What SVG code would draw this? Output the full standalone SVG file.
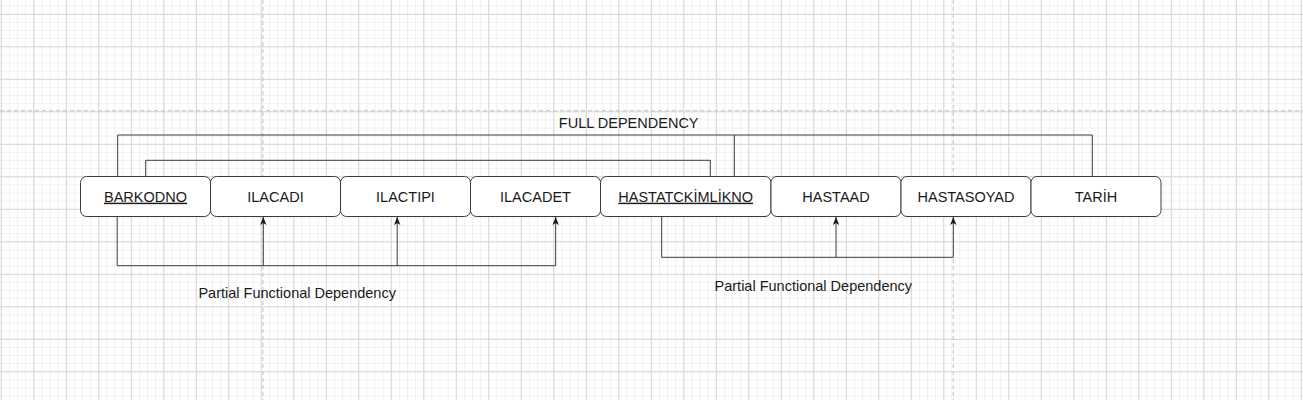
<svg xmlns="http://www.w3.org/2000/svg" width="1303" height="400" viewBox="0 0 1303 400">
<style>
.node rect{fill:#ffffff;stroke:#3c3c3c;stroke-width:1}
.node text,.lbl{font-family:"Liberation Sans",Arial,sans-serif;font-size:14.5px;fill:#1a1a1a;text-anchor:middle}
.key{text-decoration:underline}
.edge{fill:none;stroke:#3c3c3c;stroke-width:1}
.pb{stroke:#c4c4c4;stroke-width:1;stroke-dasharray:4 3}
</style>
<defs>
<pattern id="minor" patternUnits="userSpaceOnUse" x="0.8" y="13.8" width="8.125" height="8.125">
<path d="M0 0.5H8.125M0.5 0V8.125" fill="none" stroke="#f0f0f0" stroke-width="1"/>
</pattern>
<pattern id="major" patternUnits="userSpaceOnUse" x="0.8" y="13.8" width="32.5" height="32.5">
<path d="M0 0.5H32.5M0.5 0V32.5" fill="none" stroke="#d6d6d6" stroke-width="1"/>
</pattern>
<marker id="arr" viewBox="0 0 10 10" refX="10" refY="5" markerWidth="8" markerHeight="8" markerUnits="userSpaceOnUse" orient="auto">
<path d="M0 1L10 5L0 9L2.5 5Z" fill="#1a1a1a"/>
</marker>
</defs>
<rect width="1303" height="400" fill="#ffffff"/>
<rect width="1303" height="400" fill="url(#minor)"/>
<rect width="1303" height="400" fill="url(#major)"/>
<g id="page-breaks">
<line class="pb" x1="263" y1="0" x2="263" y2="400"/>
<line class="pb" x1="953.3" y1="0" x2="953.3" y2="400"/>
<line class="pb" x1="0" y1="110.7" x2="1303" y2="110.7"/>
</g>
<g id="connectors">
<polyline class="edge" points="117.7,176.5 117.7,135 1092.3,135 1092.3,176.5"/>
<polyline class="edge" points="734.3,176.5 734.3,135"/>
<polyline class="edge" points="145.7,176.5 145.7,160.3 710.3,160.3 710.3,176.5"/>
<polyline class="edge" points="117.2,216.5 117.2,265.7 555.7,265.7 555.7,217" marker-end="url(#arr)"/>
<polyline class="edge" points="263.3,265.7 263.3,217" marker-end="url(#arr)"/>
<polyline class="edge" points="397.2,265.7 397.2,217" marker-end="url(#arr)"/>
<polyline class="edge" points="661.7,216.5 661.7,257.3 953.3,257.3 953.3,217" marker-end="url(#arr)"/>
<polyline class="edge" points="836,257.3 836,217" marker-end="url(#arr)"/>
<text class="lbl" x="628.7" y="128.3">FULL DEPENDENCY</text>
<text class="lbl" x="297.2" y="298">Partial Functional Dependency</text>
<text class="lbl" x="813.3" y="290.5">Partial Functional Dependency</text>
</g>
<g id="n-barkodno" class="node"><rect x="80.5" y="176.5" width="130" height="40" rx="6"/><text class="key" x="145.5" y="201.7">BARKODNO</text></g>
<g id="n-ilacadi" class="node"><rect x="210.5" y="176.5" width="130" height="40" rx="6"/><text x="275.5" y="201.7">ILACADI</text></g>
<g id="n-ilactipi" class="node"><rect x="340.5" y="176.5" width="130" height="40" rx="6"/><text x="405.5" y="201.7">ILACTIPI</text></g>
<g id="n-ilacadet" class="node"><rect x="470.5" y="176.5" width="130" height="40" rx="6"/><text x="535.5" y="201.7">ILACADET</text></g>
<g id="n-hastatc" class="node"><rect x="600.5" y="176.5" width="170.5" height="40" rx="6"/><text class="key" x="685.7" y="201.7">HASTATCKİMLİKNO</text></g>
<g id="n-hastaad" class="node"><rect x="771" y="176.5" width="130" height="40" rx="6"/><text x="836" y="201.7">HASTAAD</text></g>
<g id="n-hastasoyad" class="node"><rect x="901" y="176.5" width="130" height="40" rx="6"/><text x="966" y="201.7">HASTASOYAD</text></g>
<g id="n-tarih" class="node"><rect x="1031" y="176.5" width="130" height="40" rx="6"/><text x="1096" y="201.7">TARİH</text></g>
</svg>
